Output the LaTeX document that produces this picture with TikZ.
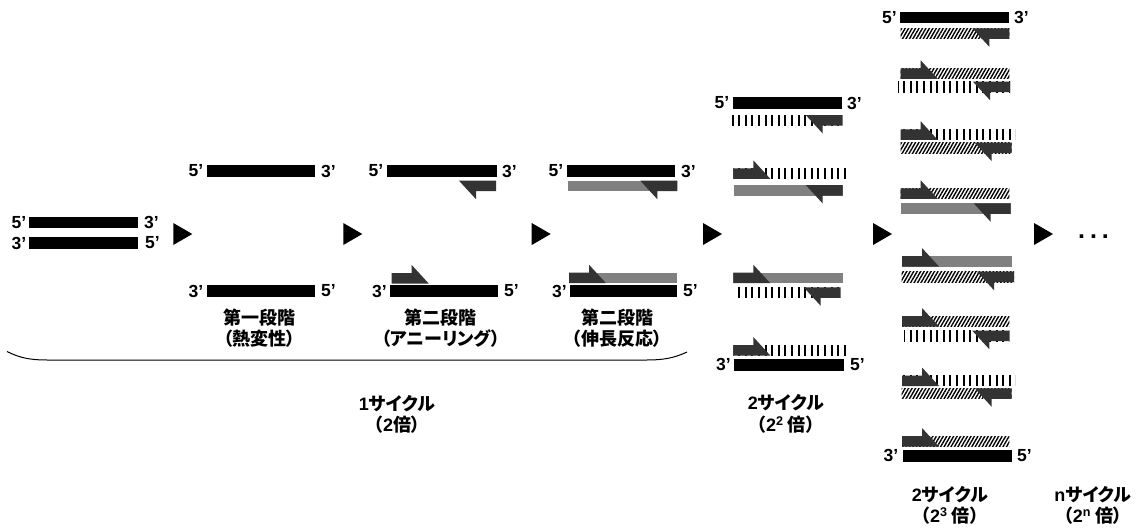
\documentclass[tikz,border=0pt]{standalone}
\usepackage{fontspec}
\setmainfont{Liberation Sans}
\newfontfamily\latn{Liberation Sans}
\newfontfamily\jp{Noto Sans CJK JP}[RawFeature=+palt]
\usetikzlibrary{patterns.meta}
\definecolor{prim}{HTML}{333333}
\definecolor{ext}{HTML}{808080}
\tikzset{
  lab/.style={font=\latn\fontsize{17.5}{19}\selectfont\bfseries, inner sep=0pt},
  jtxt/.style={font=\jp\fontsize{18}{21.5}\selectfont\bfseries, align=center, inner sep=0pt},
  vlines/.style={pattern={Lines[angle=90,distance=6.6pt,line width=2pt]}},
  dlines/.style={pattern={Lines[angle=60,distance=3pt,line width=1.4pt]}},
}
% strands: x-start, x-end, y-top
\newcommand\bstrand[3]{\fill[black] (#1,#3) rectangle (#2,#3+11.5);}
\newcommand\gstrand[3]{\fill[ext] (#1,#3) rectangle (#2,#3+10.5);}
\newcommand\vstrand[3]{\fill[vlines] (#1,#3) rectangle (#2,#3+10.5);}
\newcommand\dstrand[3]{\fill[dlines] (#1,#3) rectangle (#2,#3+10.5);}
% primers: forward (x-left, y-top), reverse (x-right, y-top)
\newcommand\fprim[2]{\fill[prim] (#1,#2) -- ++(20,0) -- ++(0,-8) -- ++(17,18.5) -- ++(-37,0) -- cycle;}
\newcommand\rprim[2]{\fill[prim] (#1,#2) -- ++(0,10.5) -- ++(-20,0) -- ++(0,8) -- ++(-17,-18.5) -- cycle;}
\newcommand\stepmark[1]{\fill[black] (#1,223) -- (#1+19,234) -- (#1,245) -- cycle;}
\begin{document}
\begin{tikzpicture}[x=1pt,y=-1pt]
\useasboundingbox[fill=white] (0,0) rectangle (1142,528);

% ---------- initial double strand ----------
\bstrand{29.3}{138.3}{216.7}
\bstrand{29.3}{138.3}{237.3}
\node[lab,anchor=east] (i5a) at (26.5,222.5) {5’};
\node[lab,anchor=west] (i3a) at (144,222.5) {3’};
\node[lab,anchor=east] (i3b) at (26.5,243) {3’};
\node[lab,anchor=west] (i5b) at (145,243) {5’};

% ---------- arrows ----------
\stepmark{173.3}
\stepmark{343.3}
\stepmark{531.7}
\stepmark{703}
\stepmark{873}
\stepmark{1034}
\node[font=\latn\fontsize{25}{26}\selectfont\bfseries, inner sep=0pt] (dots) at (1093.5,236.5) {.\hspace{5pt}.\hspace{5pt}.};

% ---------- stage 1 ----------
\bstrand{206.7}{315}{165}
\bstrand{207}{315}{285}
\node[lab,anchor=east] (s1a) at (203.5,171) {5’};
\node[lab,anchor=west] (s1b) at (321,171) {3’};
\node[lab,anchor=east] (s1c) at (203.5,291) {3’};
\node[lab,anchor=west] (s1d) at (321,291) {5’};
\node[jtxt] (t1) at (259.7,328.3) {第一段階\\（熱変性）};

% ---------- stage 2 ----------
\bstrand{386.7}{496.7}{165}
\rprim{496}{180.7}
\bstrand{390}{498}{285}
\fprim{391.7}{273}
\node[lab,anchor=east] (s2a) at (383.5,171) {5’};
\node[lab,anchor=west] (s2b) at (502,171) {3’};
\node[lab,anchor=east] (s2c) at (387,291) {3’};
\node[lab,anchor=west] (s2d) at (504,291) {5’};
\node[jtxt] (t2) at (440.8,328.3) {第二段階\\（アニーリング）};

% ---------- stage 3 ----------
\bstrand{566.7}{675}{165}
\gstrand{568.3}{677.3}{180.7}
\rprim{677.3}{180.7}
\gstrand{569}{677.3}{272.7}
\fprim{569}{272.7}
\bstrand{570}{676.7}{285}
\node[lab,anchor=east] (s3a) at (563.5,171) {5’};
\node[lab,anchor=west] (s3b) at (681,171) {3’};
\node[lab,anchor=east] (s3c) at (567,291) {3’};
\node[lab,anchor=west] (s3d) at (683,291) {5’};
\node[jtxt] (t3) at (617,328.3) {第二段階\\（伸長反応）};

% ---------- brace ----------
\draw[line width=1pt] (7,351.5) .. controls (20,358) and (30,360) .. (48,360) -- (646,360) .. controls (664,360) and (674,358) .. (687,352);
\node[jtxt] (c1) at (397,414.5) {{\latn 1}サイクル\\（{\latn 2}倍）};

% ---------- cycle 2 ----------
\bstrand{732.7}{841.7}{97.3}
\node[lab,anchor=east] (c2a) at (729.5,103) {5’};
\node[lab,anchor=west] (c2b) at (847,103) {3’};
\vstrand{731.7}{842.7}{115}
\rprim{842.7}{115}
\vstrand{733.3}{846.7}{168.3}
\fprim{733.3}{168.3}
\gstrand{734}{842.7}{185}
\rprim{842.7}{185}
\gstrand{733.3}{842.7}{272.7}
\fprim{733.3}{272.7}
\vstrand{735}{840.7}{287.3}
\rprim{840.7}{287.3}
\vstrand{733.3}{846.7}{345}
\fprim{733.3}{345}
\bstrand{734.3}{844}{359}
\node[lab,anchor=east] (c2c) at (731,364.7) {3’};
\node[lab,anchor=west] (c2d) at (850,364.7) {5’};
\node[jtxt] (c2) at (786,414) {{\latn 2}サイクル\\（{\latn 2\textsuperscript{2}} 倍）};

% ---------- cycle 3 ----------
\bstrand{900}{1009}{11.7}
\node[lab,anchor=east] (c3a) at (897,17.5) {5’};
\node[lab,anchor=west] (c3b) at (1014,17.5) {3’};
\dstrand{900.7}{1009.3}{28.3}
\rprim{1009.3}{28.3}
\dstrand{900.7}{1009.3}{68.3}
\fprim{900.7}{68.3}
\vstrand{898}{1010}{81.7}
\rprim{1010}{81.7}
\vstrand{900.7}{1015}{129.3}
\fprim{900.7}{129.3}
\dstrand{900.7}{1011.7}{142.7}
\rprim{1011.7}{142.7}
\dstrand{900.7}{1009.3}{188.3}
\fprim{900.7}{188.3}
\gstrand{900.7}{1010.7}{203.3}
\rprim{1010.7}{203.3}
\gstrand{902}{1011.7}{256}
\fprim{902}{256}
\dstrand{901.7}{1014}{271.7}
\rprim{1014}{271.7}
\dstrand{902}{1009.3}{316}
\fprim{902}{316}
\vstrand{904}{1009.3}{330.7}
\rprim{1009.3}{330.7}
\vstrand{902}{1015}{375.5}
\fprim{902}{375.5}
\dstrand{901.7}{1011.7}{388.3}
\rprim{1011.7}{388.3}
\dstrand{902}{1009.3}{436}
\fprim{902}{436}
\bstrand{902.7}{1011.7}{450}
\node[lab,anchor=east] (c3c) at (898.5,455.8) {3’};
\node[lab,anchor=west] (c3d) at (1017,455.8) {5’};
\node[jtxt] (c3) at (950,505.5) {{\latn 2}サイクル\\（{\latn 2\textsuperscript{3}} 倍）};
\node[jtxt] (cn) at (1093,505.5) {{\latn n}サイクル\\（{\latn 2\textsuperscript{n}} 倍）};
\end{tikzpicture}
\end{document}
